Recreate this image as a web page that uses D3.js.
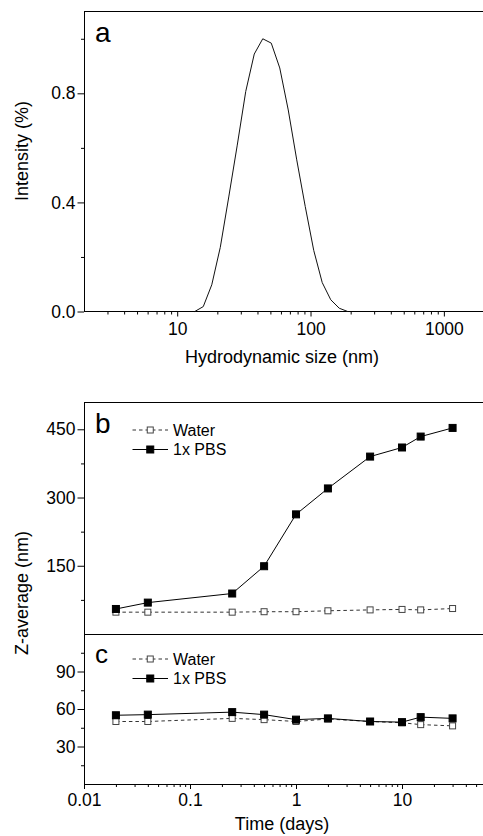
<!DOCTYPE html>
<html>
<head>
<meta charset="utf-8">
<script src="https://cdn.jsdelivr.net/npm/d3@7"></script>
<style>
  body { margin: 0; background: #fff; }
  text { font-family: "Liberation Sans", Arial, sans-serif; fill: #000; }
</style>
</head>
<body>
<svg id="graph" width="483" height="836"></svg>
<script>
// panel a - size distribution (DLS bins)
var sizes = [13.54, 15.69, 18.17, 21.04, 24.36, 28.21, 32.67, 37.84, 43.82, 50.75,
             58.77, 68.06, 78.82, 91.28, 105.7, 122.4, 141.8, 164.2, 190.1];
var intensity = [0, 0.018, 0.098, 0.235, 0.42, 0.61, 0.807, 0.944, 1.0, 0.984,
                 0.893, 0.739, 0.556, 0.385, 0.224, 0.106, 0.043, 0.012, 0];
var ticksA = [0, 0.4, 0.8];
var minorA = [0.2, 0.6, 1.0];
var sizeTicks = [10, 100, 1000];

// panels b and c - Z-average vs time
var days = [0.02, 0.04, 0.25, 0.5, 1, 2, 5, 10, 15, 30];
var waterB = [48, 48, 48, 49, 49, 51, 53, 54, 53, 56];
var pbsB = [55, 69, 89, 149, 263, 320, 390, 410, 434, 453];
var waterC = [50, 50, 52.5, 51.5, 50, 52, 50, 49, 47.5, 46.5];
var pbsC = [55, 55.5, 57.5, 55.5, 51.5, 52.5, 50, 49.5, 53.5, 52.5];
var ticksB = [150, 300, 450];
var minorB = [75, 225, 375];
var ticksC = [30, 60, 90];
var minorC = [15, 45, 75, 105];
var dayTicks = [0.01, 0.1, 1, 10];
var seriesNames = ["Water", "1x PBS"];

var svg = d3.select("#graph");
svg.append("rect").attr("width", 483).attr("height", 836).attr("fill", "#fff");

var left = 84;

// escalas
var xA = d3.scaleLog().domain([2, 2000]).range([left, 484]);
var yA = d3.scaleLinear().domain([0, 1.1]).range([311.5, 11.5]);
var xT = d3.scaleLog().domain([0.01, 60]).range([left, 484.5]);
var yB = d3.scaleLinear().domain([0, 510]).range([634, 402]);
var yC = d3.scaleLinear().domain([0, 120]).range([784, 634]);

function logMinor(lo, hi) {
    var out = [];
    for (var e = Math.floor(Math.log10(lo)); e <= Math.ceil(Math.log10(hi)); e++) {
        for (var m = 2; m <= 9; m++) {
            var v = m * Math.pow(10, e);
            if (v > lo && v < hi) out.push(v);
        }
    }
    return out;
}

function yAxis(scale, major, minor, fmt) {
    var g = svg.append("g").attr("transform", "translate(" + left + ",0)");
    g.append("g")
        .call(d3.axisLeft(scale).tickValues(major).tickSize(6.5).tickPadding(2).tickFormat(fmt))
        .call(a => a.select(".domain").remove())
        .call(a => a.selectAll("text").style("font-size", "17.5px").attr("fill", "#000"));
    g.append("g")
        .call(d3.axisLeft(scale).tickValues(minor).tickSize(3).tickFormat(""))
        .call(a => a.select(".domain").remove());
}

function xAxis(scale, y, major, minor, fmt, pad) {
    var g = svg.append("g").attr("transform", "translate(0," + y + ")");
    g.append("g")
        .call(d3.axisBottom(scale).tickValues(major).tickSize(5).tickPadding(pad).tickFormat(fmt))
        .call(a => a.select(".domain").remove())
        .call(a => a.selectAll("text").style("font-size", "17.5px").attr("fill", "#000"));
    g.append("g")
        .call(d3.axisBottom(scale).tickValues(minor).tickSize(3).tickFormat(""))
        .call(a => a.select(".domain").remove());
}

function frame(top, bottom) {
    svg.append("path")
        .attr("d", "M490," + top + "H" + left + "V" + bottom + "H490")
        .attr("fill", "none")
        .attr("stroke", "#000")
        .attr("stroke-width", 1)
        .attr("shape-rendering", "crispEdges");
}

///// panel a /////
yAxis(yA, ticksA, minorA, d3.format(".1f"));
xAxis(xA, 311.5, sizeTicks, logMinor(2, 2000), d3.format("d"), 6.5);
frame(11.5, 311.5);

var lineA = d3.line().x((d, i) => xA(sizes[i])).y(d => yA(d));
svg.append("path")
    .datum(intensity)
    .attr("d", lineA)
    .attr("fill", "none")
    .attr("stroke", "#111")
    .attr("stroke-width", 1);

svg.append("text").attr("x", 95).attr("y", 41.5).style("font-size", "28px").text("a");
svg.append("text")
    .attr("transform", "translate(28,151) rotate(-90)")
    .style("text-anchor", "middle").style("font-size", "18px")
    .text("Intensity (%)");
svg.append("text")
    .attr("x", 282).attr("y", 363)
    .style("text-anchor", "middle").style("font-size", "18px")
    .text("Hydrodynamic size (nm)");

///// panels b y c /////
yAxis(yB, ticksB, minorB, d3.format("d"));
yAxis(yC, ticksC, minorC, d3.format("d"));
xAxis(xT, 784, dayTicks, logMinor(0.01, 60), d => String(d), 4.5);
frame(402.5, 784);
svg.append("line").attr("x1", left).attr("x2", 490).attr("y1", 634.5).attr("y2", 634.5)
    .attr("stroke", "#000").attr("stroke-width", 1);

var waterStyle = { stroke: "#333", dash: "3.5,3", fill: "#fff", mstroke: "#444", size: 6 };
var pbsStyle = { stroke: "#000", dash: null, fill: "#000", mstroke: "#000", size: 7 };

function drawSeries(vals, yScale, st) {
    var line = d3.line().x((d, i) => xT(days[i])).y(d => yScale(d));
    svg.append("path")
        .datum(vals)
        .attr("d", line)
        .attr("fill", "none")
        .attr("stroke", st.stroke)
        .attr("stroke-width", 1)
        .attr("stroke-dasharray", st.dash);
    svg.append("g")
        .selectAll("rect")
        .data(vals)
        .enter().append("rect")
        .attr("x", (d, i) => xT(days[i]) - st.size / 2)
        .attr("y", d => yScale(d) - st.size / 2)
        .attr("width", st.size)
        .attr("height", st.size)
        .attr("fill", st.fill)
        .attr("stroke", st.mstroke)
        .attr("stroke-width", 1);
}

drawSeries(waterB, yB, waterStyle);
drawSeries(pbsB, yB, pbsStyle);
drawSeries(waterC, yC, waterStyle);
drawSeries(pbsC, yC, pbsStyle);

function legend(y0) {
    var styles = [waterStyle, pbsStyle];
    seriesNames.forEach(function (name, i) {
        var st = styles[i], y = y0 + i * 19.5;
        svg.append("line")
            .attr("x1", 132.5).attr("x2", 168).attr("y1", y).attr("y2", y)
            .attr("stroke", st.stroke).attr("stroke-width", 1)
            .attr("stroke-dasharray", st.dash);
        svg.append("rect")
            .attr("x", 150.25 - st.size / 2).attr("y", y - st.size / 2)
            .attr("width", st.size).attr("height", st.size)
            .attr("fill", st.fill).attr("stroke", st.mstroke);
        svg.append("text")
            .attr("x", 173).attr("y", y + 5.5)
            .style("font-size", "16px")
            .text(name);
    });
}
legend(430);
legend(659);

svg.append("text").attr("x", 95).attr("y", 432.7).style("font-size", "28px").text("b");
svg.append("text").attr("x", 95).attr("y", 662.5).style("font-size", "26px").text("c");
svg.append("text")
    .attr("transform", "translate(28,593) rotate(-90)")
    .style("text-anchor", "middle").style("font-size", "18px")
    .text("Z-average (nm)");
svg.append("text")
    .attr("x", 282).attr("y", 830)
    .style("text-anchor", "middle").style("font-size", "18px")
    .text("Time (days)");
</script>
</body>
</html>
